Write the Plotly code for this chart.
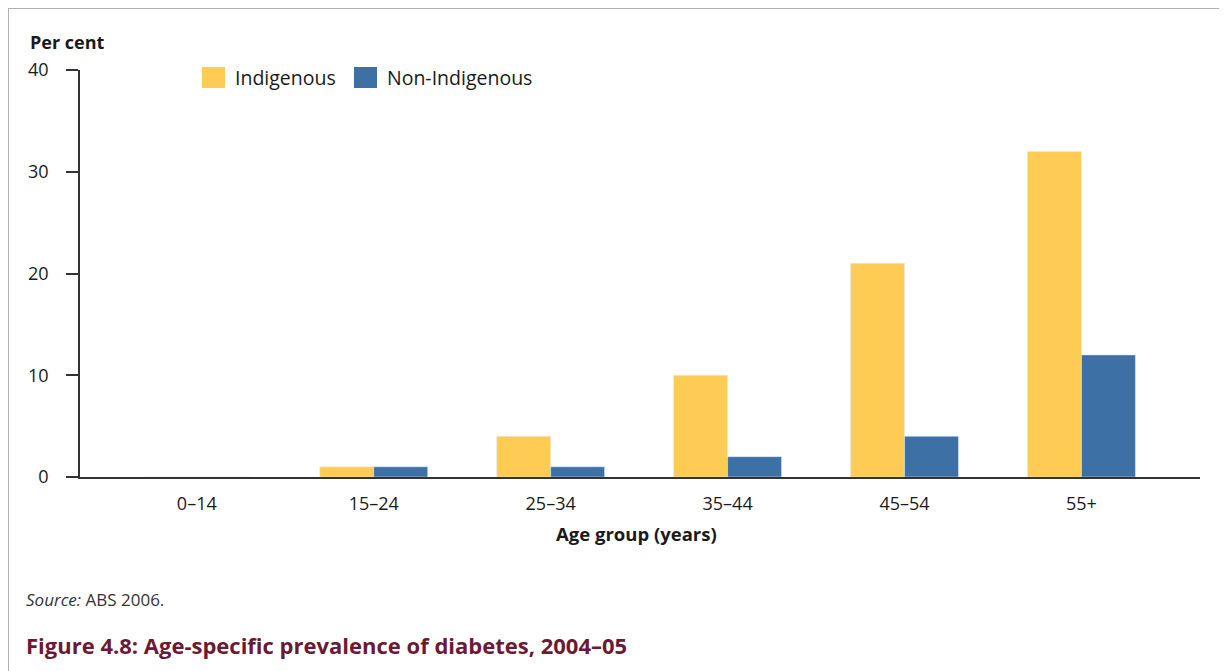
import plotly.graph_objects as go

age_groups = ["0–14", "15–24", "25–34", "35–44", "45–54", "55+"]
indigenous = [0, 1, 4, 10, 21, 32]
non_indigenous = [0, 1, 1, 2, 4, 12]
series_names = ["Indigenous", "Non-Indigenous"]

FONT = "Open Sans, Noto Sans, sans-serif"
YELLOW = "#FECC54"
BLUE = "#3D70A4"

fig = go.Figure()
fig.add_trace(go.Bar(x=age_groups, y=indigenous, name=series_names[0], marker_color=YELLOW))
fig.add_trace(go.Bar(x=age_groups, y=non_indigenous, name=series_names[1], marker_color=BLUE))

# the page puts the plot 8px in from the corner, so margins are offset for that
fig.update_layout(
    width=1227, height=671,
    margin=dict(l=72, r=35, t=62, b=202),
    paper_bgcolor="white", plot_bgcolor="white",
    barmode="group", bargap=0.39, bargroupgap=0,
    font=dict(family=FONT, size=18, color="#1a1a1a"),
    showlegend=False,
)
fig.update_xaxes(range=[-0.66, 5.67], showline=True, linecolor="#333", linewidth=2,
                 ticks="", ticklabelstandoff=9, showgrid=False, zeroline=False)
fig.update_yaxes(range=[0, 40], tickvals=[0, 10, 20, 30, 40], showline=True, linecolor="#333",
                 linewidth=1.5, ticks="outside", ticklen=12, tickcolor="#333", tickwidth=1.5,
                 ticklabelstandoff=14, showgrid=False, zeroline=False)

# frame
fig.add_shape(type="rect", xref="paper", yref="paper", x0=-0.0643, x1=1.06, y0=-0.6, y1=1.1523,
              line=dict(color="#b0b0b0", width=2), fillcolor="rgba(0,0,0,0)", layer="below")

# legend, drawn by hand for bigger swatches
for (x0, x1, xt), name, col in zip([(0.1089, 0.1295, 0.1366), (0.2446, 0.2652, 0.2723)],
                                   series_names, [YELLOW, BLUE]):
    fig.add_shape(type="rect", xref="paper", yref="paper", x0=x0, x1=x1, y0=0.9558, y1=1.0074,
                  line=dict(width=0), fillcolor=col)
    fig.add_annotation(text=name, xref="paper", yref="paper", x=xt, y=0.9828,
                       xanchor="left", yanchor="middle", showarrow=False, font=dict(size=19.5))

fig.add_annotation(text="<b>Per cent</b>", xref="paper", yref="paper", x=-0.0464, y=1.068,
                   xanchor="left", yanchor="middle", showarrow=False, font=dict(size=18))
fig.add_annotation(text="<b>Age group (years)</b>", xref="paper", yref="paper", x=0.497, y=-0.14,
                   xanchor="center", yanchor="middle", showarrow=False, font=dict(size=18.5))
fig.add_annotation(text="<i>Source:</i> ABS 2006.", xref="paper", yref="paper", x=-0.05, y=-0.3,
                   xanchor="left", yanchor="middle", showarrow=False, font=dict(size=17, color="#333"))
fig.add_annotation(text="<b>Figure 4.8: Age-specific prevalence of diabetes, 2004–05</b>",
                   xref="paper", yref="paper", x=-0.05, y=-0.413, xanchor="left", yanchor="middle",
                   showarrow=False, font=dict(size=22, color="#6b1a35"))

fig.write_html("out.html")
